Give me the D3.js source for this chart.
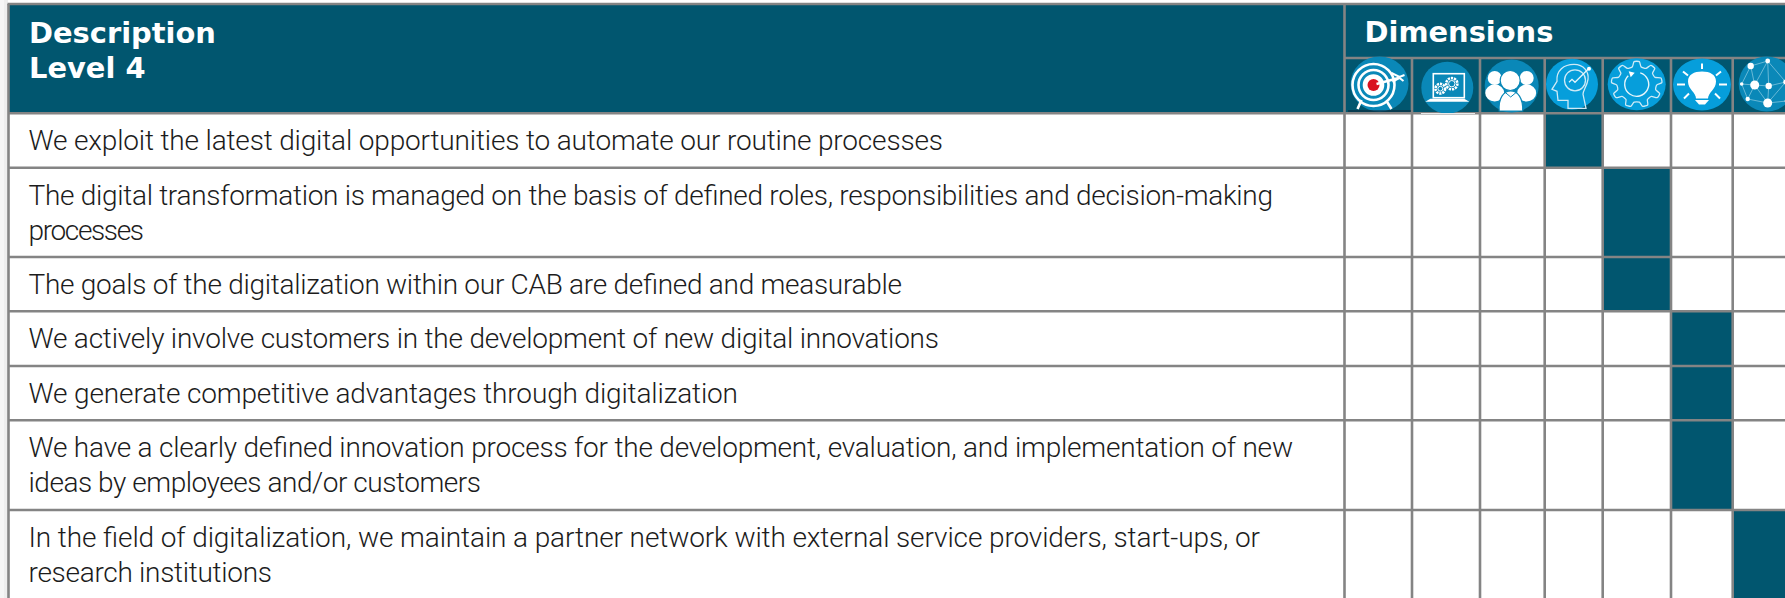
<!DOCTYPE html>
<html>
<head>
<meta charset="utf-8">
<script src="https://cdn.jsdelivr.net/npm/d3@7/dist/d3.min.js"></script>
<style>
html,body{margin:0;padding:0;background:#fff;overflow:hidden}
svg{display:block}
.head{font-family:"DejaVu Sans";font-weight:700;font-size:28.9px;fill:#fff}
.body{font-family:"Roboto";font-weight:300;font-size:28px;fill:#1c1c1c}
</style>
</head>
<body>
<svg id="c" width="1785" height="598"></svg>
<script>
const headerLines = ["Description", "Level 4"];
const dimensionTitle = "Dimensions";
const dimensions = ["target", "laptop", "people", "head", "gear", "bulb", "network"];
const descriptions = [
  ["We exploit the latest digital opportunities to automate our routine processes"],
  ["The digital transformation is managed on the basis of defined roles, responsibilities and decision-making", "processes"],
  ["The goals of the digitalization within our CAB are defined and measurable"],
  ["We actively involve customers in the development of new digital innovations"],
  ["We generate competitive advantages through digitalization"],
  ["We have a clearly defined innovation process for the development, evaluation, and implementation of new", "ideas by employees and/or customers"],
  ["In the field of digitalization, we maintain a partner network with external service providers, start-ups, or", "research institutions"]
];
const assignedDimension = [3, 4, 4, 5, 5, 5, 6];

// layout: right-hand end of each text line
const lineEnds = [[943],[1273,144],[902],[939],[738],[1293,481],[1260,272]];
const TEXT_X = 28.5;

const TEAL = "#01566f", GRID = "#848484", DARKBLUE = "#0a88b8", BLUE = "#069edb";
const svg = d3.select("#c");

// piecewise scales: column index -> left edge, row index -> top edge
const x = d3.scaleLinear().domain(d3.range(9)).range([1344.5, 1412, 1480, 1544.7, 1602.7, 1671, 1732.7, 1800, 1860]);
const y = d3.scaleLinear().domain(d3.range(9)).range([113.3, 167.7, 257, 311.3, 366, 420.3, 510, 600, 690]);
const left = 8.5, top0 = 4, headMid = 58;

svg.append("rect").attr("x",0).attr("y",0).attr("width",8).attr("height",598).attr("fill","#f6f6f6");
svg.append("rect").attr("x",4).attr("y",0).attr("width",4).attr("height",598).attr("fill","#eeeeee");
svg.append("rect").attr("x",left).attr("y",top0).attr("width",1785).attr("height",598).attr("fill","#fff");
svg.append("rect").attr("x",left).attr("y",top0).attr("width",1785).attr("height",y(0)-top0).attr("fill",TEAL);

svg.append("g").selectAll("rect").data(assignedDimension).join("rect")
  .attr("x", d => x(d)).attr("y", (d,i) => y(i))
  .attr("width", d => x(d+1)-x(d)).attr("height", (d,i) => y(i+1)-y(i))
  .attr("fill", TEAL);

const grid = svg.append("g").attr("stroke", GRID).attr("stroke-width", 2.6).attr("fill","none");
grid.append("line").attr("x1",left-1).attr("x2",1785).attr("y1",top0).attr("y2",top0);
grid.append("line").attr("x1",left).attr("x2",left).attr("y1",top0).attr("y2",598);
grid.selectAll(".h").data(d3.range(7)).join("line").attr("class","h")
  .attr("x1",left).attr("x2",1785).attr("y1",d=>y(d)).attr("y2",d=>y(d));
grid.selectAll(".v").data(d3.range(7)).join("line").attr("class","v")
  .attr("x1",d=>x(d)).attr("x2",d=>x(d)).attr("y1",d=>d===0?top0:headMid).attr("y2",598);
grid.append("line").attr("x1",x(0)).attr("x2",1785).attr("y1",headMid).attr("y2",headMid);

svg.selectAll(".hl").data(headerLines).join("text").attr("class","head hl")
  .attr("x",29).attr("y",(d,i)=>42.5+i*35.2).text(d=>d);
svg.append("text").attr("class","head").attr("x",1364.5).attr("y",41.7).text(dimensionTitle);

const rowsG = svg.append("g");
descriptions.forEach((lines,i)=>{
  lines.forEach((t,j)=>{
    rowsG.append("text").attr("class","body").attr("x",TEXT_X)
      .attr("y", y(i)+37+j*35)
      .attr("textLength", lineEnds[i][j]-TEXT_X).attr("lengthAdjust","spacing").text(t);
  });
});

const centres = {target:[1379.5,84,29,27.5,DARKBLUE],laptop:[1447.3,87.7,26,26,DARKBLUE],people:[1511.7,86,27,26.5,DARKBLUE],
  head:[1572,84.3,26,25.5,BLUE],gear:[1636.7,84.3,29,26,BLUE],bulb:[1702,84.5,29,26,BLUE],network:[1766.7,84,28,27.5,DARKBLUE]};
const icons = svg.append("g").selectAll("g").data(dimensions).join("g")
  .attr("transform",d=>`translate(${centres[d][0]},${centres[d][1]})`);
icons.append("ellipse").attr("rx",d=>centres[d][2]).attr("ry",d=>centres[d][3]).attr("fill",d=>centres[d][4]);
const W="#fff";
function ic(name){return icons.filter(d=>d===name);}

{const g=ic("target");
 [21,15,9.5].forEach((r,i)=>g.append("circle").attr("cx",-6).attr("cy",1).attr("r",r).attr("fill",i==2?W:"none").attr("stroke",W).attr("stroke-width",2.6));
 g.append("circle").attr("cx",-6).attr("cy",1).attr("r",6).attr("fill","#d9121f");
 g.append("line").attr("x1",-3).attr("y1",0).attr("x2",19).attr("y2",-6).attr("stroke",W).attr("stroke-width",2.4);
 g.append("path").attr("d","M12,-11L20,-7L25,-9M13,-2L20,-6L24,-3").attr("stroke",W).attr("stroke-width",2).attr("fill","none");
 g.append("path").attr("d","M-18,16L-22,25M7,17L12,25").attr("stroke",W).attr("stroke-width",2.6);
}
{const g=ic("laptop");
 g.append("rect").attr("x",-14).attr("y",-14).attr("width",31).attr("height",24).attr("fill","none").attr("stroke",W).attr("stroke-width",1.6);
 g.append("path").attr("d","M-22,14H22L17,11H-17Z").attr("fill",W);
 [[-7,1,4.8],[4.5,-4,5.6]].forEach(c=>{
   g.append("circle").attr("cx",c[0]).attr("cy",c[1]).attr("r",c[2]).attr("fill","none").attr("stroke",W).attr("stroke-width",2.6).attr("stroke-dasharray","2.2 0.9");
   g.append("circle").attr("cx",c[0]).attr("cy",c[1]).attr("r",c[2]-2.4).attr("fill",DARKBLUE).attr("stroke",W).attr("stroke-width",1);
 });
}
{const g=ic("people");
 [[-17,-8,7],[15,-8,7]].forEach(c=>g.append("circle").attr("cx",c[0]).attr("cy",c[1]).attr("r",c[2]).attr("fill",W));
 g.append("ellipse").attr("cx",-17).attr("cy",7).attr("rx",9.5).attr("ry",8.5).attr("fill",W);
 g.append("ellipse").attr("cx",15).attr("cy",7).attr("rx",9.5).attr("ry",8.5).attr("fill",W);
 g.append("path").attr("d","M-12.5,25C-13.5,12 -8,5 -1,5C6,5 11.5,12 11,25Z").attr("fill",W).attr("stroke",DARKBLUE).attr("stroke-width",1.2);
 g.append("circle").attr("cx",-1.5).attr("cy",-5.5).attr("r",10).attr("fill",W).attr("stroke",DARKBLUE).attr("stroke-width",1.2);
 g.append("path").attr("d","M-7,6L-1,11L5,6").attr("fill","none").attr("stroke",DARKBLUE).attr("stroke-width",1);
}
{const g=ic("head");
 g.append("path").attr("d","M-4,24V16H-14L-15,7L-20,5L-15,-3C-16,-14 -8,-20 2,-20C12,-20 17,-12 16,-5C15,2 11,6 11,10L14,24Z")
  .attr("fill","none").attr("stroke","#cfeaf6").attr("stroke-width",1.3);
 g.append("circle").attr("cx",3).attr("cy",-4).attr("r",10.5).attr("fill","none").attr("stroke","#cfeaf6").attr("stroke-width",1.3);
 g.append("path").attr("d","M-3,-2L0,-5L3,-2L16,-15").attr("fill","none").attr("stroke","#e6f5fb").attr("stroke-width",1.3);
 g.append("circle").attr("cx",17).attr("cy",-15.5).attr("r",2).attr("fill",W);
}
{const g=ic("gear");
 const n=9, pts=[];
 d3.range(n).forEach(i=>{const a=(i/n)*2*Math.PI-Math.PI/2;const s=Math.PI/n;
   [[-0.62,19],[-0.3,24],[0.3,24],[0.62,19]].forEach(p=>{const t=a+p[0]*s;pts.push([Math.cos(t)*p[1]*1.05,Math.sin(t)*p[1]*0.95]);});
 });
 g.append("path").attr("d",d3.line().curve(d3.curveCardinalClosed.tension(0.4))(pts)).attr("fill","none").attr("stroke","#cfeaf6").attr("stroke-width",1.3);
 g.append("path").attr("d",d3.arc()({innerRadius:12,outerRadius:12,startAngle:0.3,endAngle:5.5})).attr("fill","none").attr("stroke","#e6f5fb").attr("stroke-width",1.4);
 g.append("path").attr("d","M-8,-13L-2,-11.5L-6,-7Z").attr("fill",W);
}
{const g=ic("bulb");
 g.append("path").attr("d","M-6,14C-6,8 -14,5 -14,-3C-14,-10 -8,-13 0,-13C8,-13 14,-10 14,-3C14,5 6,8 6,14Z").attr("fill",W);
 g.append("path").attr("d","M-7,15.5H7L3,20H-3Z").attr("fill",W);
 [[0,-21,0,-15.5],[-19,-13,-14,-9],[19,-13,14,-9],[-25,0,-17,0],[25,0,17,0],[-18,14,-13,9],[18,14,13,9]].forEach(l=>
   g.append("line").attr("x1",l[0]).attr("y1",l[1]).attr("x2",l[2]).attr("y2",l[3]).attr("stroke",W).attr("stroke-width",2));
}
{const g=ic("network");
 const nodes=[[-16,-18,3.2],[1,-23,2.4],[-12,1,4.5],[2,2,3.2],[-25,0,1.8],[-19,15,2.2],[1,19,4.5],[19,-2,2.5],[20,17,2]];
 const links=[[0,1],[0,2],[0,4],[1,2],[1,3],[1,7],[2,3],[2,4],[2,5],[2,6],[3,6],[3,7],[5,6],[6,7],[6,8],[4,5]];
 g.selectAll("line").data(links).join("line")
  .attr("x1",d=>nodes[d[0]][0]).attr("y1",d=>nodes[d[0]][1]).attr("x2",d=>nodes[d[1]][0]).attr("y2",d=>nodes[d[1]][1])
  .attr("stroke","#7fc4dd").attr("stroke-width",0.8);
 g.selectAll("circle").data(nodes).join("circle").attr("cx",d=>d[0]).attr("cy",d=>d[1]).attr("r",d=>d[2]).attr("fill",W);
}
svg.append("line").attr("x1",1348).attr("x2",1411).attr("y1",111).attr("y2",111).attr("stroke","#123").attr("stroke-width",1);
svg.append("line").attr("x1",1421).attr("x2",1475).attr("y1",113.5).attr("y2",113.5).attr("stroke","#e8e8e8").attr("stroke-width",1);
</script>
</body>
</html>
